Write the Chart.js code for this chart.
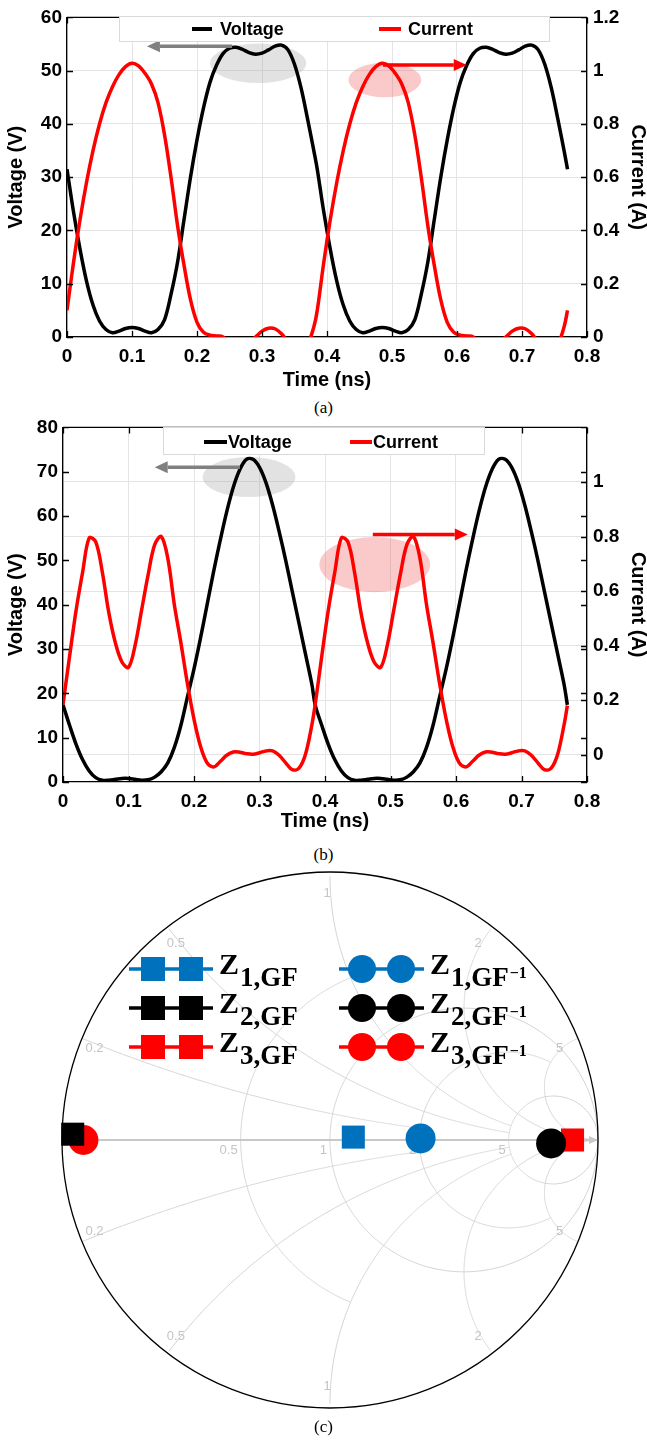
<!DOCTYPE html>
<html lang="en">
<head>
<meta charset="UTF-8">
<title>Voltage / current waveforms and impedance points</title>
<script src="https://cdn.jsdelivr.net/npm/chart.js"></script>
<style>
  body { margin: 0; background: #fff; }
  #page { position: relative; width: 647px; height: 1440px; }
  canvas { position: absolute; left: 0; }
  .cap { position: absolute; left: 0; width: 647px; text-align: center;
         font: 17px "Liberation Serif", "Times New Roman", serif; line-height: 20px; color: #000; }
</style>
</head>
<body>
<div id="page">
  <canvas id="chartA" width="647" height="392" style="top:0"></canvas>
  <div class="cap" style="top:398px">(a)</div>
  <canvas id="chartB" width="647" height="423" style="top:410px"></canvas>
  <div class="cap" style="top:845px">(b)</div>
  <canvas id="chartC" width="647" height="560" style="top:860px"></canvas>
  <div class="cap" style="top:1417px">(c)</div>
</div>
<script>
// time base shared by both waveform plots (two RF periods)
const timeNs = [
  0, 0.01, 0.02, 0.03, 0.04, 0.05, 0.06, 0.07, 0.08, 0.09, 0.10, 0.11, 0.12, 0.13,
  0.14, 0.15, 0.16, 0.17, 0.18, 0.19, 0.20, 0.21, 0.22, 0.23, 0.24, 0.25, 0.26, 0.27,
  0.28, 0.29, 0.30, 0.31, 0.32, 0.33, 0.34, 0.35, 0.36, 0.37, 0.38,
  0.385, 0.395, 0.405, 0.415, 0.425, 0.435, 0.445, 0.455, 0.465, 0.475, 0.485, 0.495,
  0.505, 0.515, 0.525, 0.535, 0.545, 0.555, 0.565, 0.575, 0.585, 0.595, 0.605, 0.615,
  0.625, 0.635, 0.645, 0.655, 0.665, 0.675, 0.685, 0.695, 0.705, 0.715, 0.725, 0.735,
  0.745, 0.755, 0.765, 0.77
];

// (a) drain voltage (V) and current (A)
const voltageA = [
  31.5, 23.5, 16.5, 10.5, 6.0, 3.0, 1.4, 0.8, 1.1, 1.6, 1.8, 1.6, 1.1, 0.8,
  1.4, 3.2, 8.0, 14.0, 22.0, 30.0, 37.0, 43.0, 47.8, 51.0, 53.2, 54.2, 54.4, 54.0,
  53.4, 53.1, 53.3, 53.9, 54.6, 54.8, 53.9, 51.2, 46.8, 41.0, 34.8,
  31.5, 23.5, 16.5, 10.5, 6.0, 3.0, 1.4, 0.8, 1.1, 1.6, 1.8, 1.6, 1.1, 0.8,
  1.4, 3.2, 8.0, 14.0, 22.0, 30.0, 37.0, 43.0, 47.8, 51.0, 53.2, 54.2, 54.4, 54.0,
  53.4, 53.1, 53.3, 53.9, 54.6, 54.8, 53.9, 51.2, 46.8, 41.0, 34.8,
  31.5
];
const currentA = [
  0.10, 0.28, 0.44, 0.58, 0.70, 0.80, 0.88, 0.94, 0.985, 1.015, 1.028, 1.018, 0.99, 0.95,
  0.88, 0.76, 0.60, 0.42, 0.27, 0.14, 0.055, 0.018, 0.007, 0.004, 0.0, -0.03, -0.05, -0.045,
  -0.02, 0.0, 0.022, 0.033, 0.031, 0.012, -0.02, -0.05, -0.055, -0.03, 0.04,
  0.10, 0.28, 0.44, 0.58, 0.70, 0.80, 0.88, 0.94, 0.985, 1.015, 1.028, 1.018, 0.99, 0.95,
  0.88, 0.76, 0.60, 0.42, 0.27, 0.14, 0.055, 0.018, 0.007, 0.004, 0.0, -0.03, -0.05, -0.045,
  -0.02, 0.0, 0.022, 0.033, 0.031, 0.012, -0.02, -0.05, -0.055, -0.03, 0.04,
  0.10
];

// (b) drain voltage (V) and current (A)
const voltageB = [
  17.4, 12.8, 8.5, 5.0, 2.5, 1.0, 0.4, 0.4, 0.6, 0.8, 0.8, 0.6, 0.4, 0.5,
  1.1, 2.3, 4.3, 7.8, 12.8, 19.2, 25.5, 32.5, 40.0, 47.5, 54.5, 61.0, 66.5, 70.5,
  72.8, 72.8, 71.0, 67.5, 62.5, 56.5, 50.0, 43.0, 36.0, 29.0, 22.0,
  17.4, 12.8, 8.5, 5.0, 2.5, 1.0, 0.4, 0.4, 0.6, 0.8, 0.8, 0.6, 0.4, 0.5,
  1.1, 2.3, 4.3, 7.8, 12.8, 19.2, 25.5, 32.5, 40.0, 47.5, 54.5, 61.0, 66.5, 70.5,
  72.8, 72.8, 71.0, 67.5, 62.5, 56.5, 50.0, 43.0, 36.0, 29.0, 22.0,
  17.4
];
const currentB = [
  0.184, 0.36, 0.53, 0.67, 0.795, 0.78, 0.67, 0.52, 0.41, 0.34, 0.32, 0.40, 0.53, 0.66,
  0.77, 0.80, 0.72, 0.55, 0.41, 0.26, 0.13, 0.03, -0.03, -0.045, -0.025, -0.002, 0.01, 0.009,
  0.004, 0.002, 0.007, 0.014, 0.014, -0.002, -0.03, -0.055, -0.05, 0.0, 0.11,
  0.184, 0.36, 0.53, 0.67, 0.795, 0.78, 0.67, 0.52, 0.41, 0.34, 0.32, 0.40, 0.53, 0.66,
  0.77, 0.80, 0.72, 0.55, 0.41, 0.26, 0.13, 0.03, -0.03, -0.045, -0.025, -0.002, 0.01, 0.009,
  0.004, 0.002, 0.007, 0.014, 0.014, -0.002, -0.03, -0.055, -0.05, 0.0, 0.11,
  0.18
];

// tick values
const timeTicks = [0, 0.1, 0.2, 0.3, 0.4, 0.5, 0.6, 0.7, 0.8];
const voltTicksA = [0, 10, 20, 30, 40, 50, 60];
const currTicksA = [0, 0.2, 0.4, 0.6, 0.8, 1.0, 1.2];
const voltTicksB = [0, 10, 20, 30, 40, 50, 60, 70, 80];
const currTicksB = [0, 0.2, 0.4, 0.6, 0.8, 1.0];

// (c) reflection coefficients of the six impedances
const impedanceNames = ['Z1,GF', 'Z2,GF', 'Z3,GF', 'Z1,GF-1', 'Z2,GF-1', 'Z3,GF-1'];
const gammaRe = [0.087, -0.96, 0.905, 0.338, 0.825, -0.92];
const gammaIm = [0.011, 0.022, 0.0, 0.006, -0.013, 0.0];

const SANS = '"Liberation Sans", Arial, Helvetica, sans-serif';
const SERIF = '"Liberation Serif", "Times New Roman", serif';
const tickFont = { family: SANS, size: 19, weight: 'bold' };
const titleFont = { family: SANS, size: 20, weight: 'bold' };
const GRID = '#e4e4e4';

function toXY(ys) { return timeNs.map((t, i) => ({ x: t, y: ys[i] })); }
function fixedTicks(values) { return s => { s.ticks = values.map(v => ({ value: v })); }; }
const fmt = v => String(Number(v.toFixed(2)));

// frame on top edge plus inward tick marks on all four sides
const frameTicks = {
  id: 'frameTicks',
  afterDatasetsDraw(chart) {
    const { ctx, chartArea: a, scales } = chart;
    const L = 6;
    ctx.save();
    ctx.strokeStyle = '#000';
    ctx.lineWidth = 1.3;
    ctx.beginPath();
    ctx.moveTo(a.left, a.top); ctx.lineTo(a.right, a.top);
    scales.x.ticks.forEach(t => {
      const px = Math.round(scales.x.getPixelForValue(t.value)) + 0.5;
      ctx.moveTo(px, a.bottom); ctx.lineTo(px, a.bottom - L);
      ctx.moveTo(px, a.top); ctx.lineTo(px, a.top + L);
    });
    scales.y.ticks.forEach(t => {
      const py = Math.round(scales.y.getPixelForValue(t.value)) + 0.5;
      ctx.moveTo(a.left, py); ctx.lineTo(a.left + L, py);
      ctx.moveTo(a.right, py); ctx.lineTo(a.right - L, py);
    });
    scales.y1.ticks.forEach(t => {
      const py = Math.round(scales.y1.getPixelForValue(t.value)) + 0.5;
      ctx.moveTo(a.right, py); ctx.lineTo(a.right - L, py);
    });
    ctx.stroke();
    ctx.restore();
  }
};

// highlight ellipses (under the traces) and arrows pointing to the matching axis
const marks = {
  id: 'marks',
  beforeDatasetsDraw(chart, args, o) {
    const { ctx, scales } = chart;
    (o.ellipses || []).forEach(e => {
      const ys = scales[e.axis];
      const cx = scales.x.getPixelForValue(e.t), cy = ys.getPixelForValue(e.v);
      const rx = Math.abs(scales.x.getPixelForValue(e.t + e.w / 2) - cx);
      const ry = Math.abs(ys.getPixelForValue(e.v + e.h / 2) - cy);
      ctx.save();
      ctx.fillStyle = e.color;
      ctx.beginPath();
      ctx.ellipse(cx, cy, rx, ry, 0, 0, Math.PI * 2);
      ctx.fill();
      ctx.restore();
    });
  },
  afterDatasetsDraw(chart, args, o) {
    const { ctx, scales } = chart;
    (o.arrows || []).forEach(r => {
      const ys = scales[r.axis];
      const x0 = scales.x.getPixelForValue(r.t0), x1 = scales.x.getPixelForValue(r.t1);
      const y = ys.getPixelForValue(r.v);
      const dir = Math.sign(x1 - x0), head = 13;
      ctx.save();
      ctx.strokeStyle = r.color; ctx.fillStyle = r.color; ctx.lineWidth = 3.5;
      ctx.beginPath(); ctx.moveTo(x0, y); ctx.lineTo(x1 - dir * head, y); ctx.stroke();
      ctx.beginPath();
      ctx.moveTo(x1, y);
      ctx.lineTo(x1 - dir * head, y - 6);
      ctx.lineTo(x1 - dir * head, y + 6);
      ctx.closePath(); ctx.fill();
      ctx.restore();
    });
  }
};

// boxed legend laid over the top of the plot area
const boxLegend = {
  id: 'boxLegend',
  afterDraw(chart, args, o) {
    if (!o.box) return;
    const ctx = chart.ctx;
    const [x0, y0, x1, y1] = o.box;
    ctx.save();
    ctx.fillStyle = '#fff';
    ctx.fillRect(x0, y0, x1 - x0, y1 - y0);
    ctx.strokeStyle = '#d9d9d9'; ctx.lineWidth = 1;
    ctx.strokeRect(x0 + 0.5, y0 + 0.5, x1 - x0 - 1, y1 - y0 - 1);
    ctx.font = 'bold 18px ' + SANS;
    ctx.textBaseline = 'middle';
    chart.data.datasets.forEach((ds, i) => {
      const it = o.items[i];
      ctx.strokeStyle = ds.borderColor; ctx.lineWidth = 4;
      ctx.beginPath(); ctx.moveTo(it.line[0], o.y); ctx.lineTo(it.line[1], o.y); ctx.stroke();
      ctx.fillStyle = '#000';
      ctx.fillText(ds.label, it.text, o.y + 1);
    });
    ctx.restore();
  }
};

function waveChart(id, volt, curr, cfg) {
  return new Chart(document.getElementById(id), {
    type: 'line',
    data: {
      datasets: [
        { label: 'Voltage', data: toXY(volt), yAxisID: 'y', borderColor: '#000', order: 1 },
        { label: 'Current', data: toXY(curr), yAxisID: 'y1', borderColor: '#ff0000', order: 0 }
      ]
    },
    options: {
      responsive: false,
      animation: false,
      events: [],
      parsing: false,
      layout: { padding: { top: cfg.top, left: 0, right: 0, bottom: 0 } },
      elements: {
        line: { borderWidth: 3.5, tension: 0.35, fill: false, borderJoinStyle: 'round' },
        point: { radius: 0 }
      },
      plugins: {
        legend: { display: false },
        tooltip: { enabled: false },
        marks: cfg.marks,
        boxLegend: cfg.legend
      },
      scales: {
        x: {
          type: 'linear', min: 0, max: 0.8,
          afterBuildTicks: fixedTicks(timeTicks),
          ticks: { font: tickFont, color: '#000', padding: 8, maxRotation: 0, callback: fmt },
          grid: { color: GRID, drawTicks: false },
          border: { color: '#000', width: 1.3 },
          title: { display: true, text: 'Time (ns)', font: titleFont, color: '#000', padding: { top: 0, bottom: 0 } },
          afterFit: s => { s.height = cfg.xHeight; }
        },
        y: {
          position: 'left', min: 0, max: cfg.vMax,
          afterBuildTicks: fixedTicks(cfg.vTicks),
          ticks: { font: tickFont, color: '#000', padding: 5, callback: fmt },
          grid: { display: cfg.gridLeft, color: GRID, drawTicks: false },
          border: { color: '#000', width: 1.3 },
          title: { display: true, text: 'Voltage (V)', font: titleFont, color: '#000', padding: { top: 4, bottom: 0 } },
          afterFit: s => { s.width = cfg.left; }
        },
        y1: {
          position: 'right', min: cfg.iMin, max: cfg.iMax,
          afterBuildTicks: fixedTicks(cfg.iTicks),
          ticks: { font: tickFont, color: '#000', padding: 6, callback: fmt },
          grid: { drawOnChartArea: !cfg.gridLeft, color: GRID, drawTicks: false },
          border: { color: '#000', width: 1.3 },
          title: { display: true, text: 'Current (A)', font: titleFont, color: '#000', padding: { top: -3, bottom: 0 } },
          afterFit: s => { s.width = 60; }
        }
      }
    },
    plugins: [marks, frameTicks, boxLegend]
  });
}

waveChart('chartA', voltageA, currentA, {
  top: 15, left: 67, xHeight: 55,
  vMax: 60, vTicks: voltTicksA, iMin: 0, iMax: 1.2, iTicks: currTicksA, gridLeft: true,
  legend: { box: [119, 16, 550, 42], y: 29, items: [{ line: [192, 212], text: 220 }, { line: [379, 401], text: 408 }] },
  marks: {
    ellipses: [
      { t: 0.294, v: 51.4, w: 0.148, h: 7.4, axis: 'y', color: 'rgba(160,160,160,0.3)' },
      { t: 0.489, v: 0.965, w: 0.112, h: 0.13, axis: 'y1', color: 'rgba(240,100,100,0.35)' }
    ],
    arrows: [
      { t0: 0.254, t1: 0.123, v: 54.6, axis: 'y', color: '#808080' },
      { t0: 0.486, t1: 0.615, v: 1.021, axis: 'y1', color: '#ff0000' }
    ]
  }
});

waveChart('chartB', voltageB, currentB, {
  top: 17, left: 63, xHeight: 51,
  vMax: 80, vTicks: voltTicksB, iMin: -0.1, iMax: 1.2, iTicks: currTicksB, gridLeft: false,
  legend: { box: [163, 17, 485, 45], y: 32, items: [{ line: [204, 227], text: 228 }, { line: [350, 372], text: 373 }] },
  marks: {
    ellipses: [
      { t: 0.284, v: 68.8, w: 0.142, h: 9.0, axis: 'y', color: 'rgba(160,160,160,0.3)' },
      { t: 0.476, v: 0.697, w: 0.169, h: 0.202, axis: 'y1', color: 'rgba(240,100,100,0.35)' }
    ],
    arrows: [
      { t0: 0.270, t1: 0.140, v: 71.0, axis: 'y', color: '#808080' },
      { t0: 0.473, t1: 0.618, v: 0.807, axis: 'y1', color: '#ff0000' }
    ]
  }
});

// ---- (c) Smith chart ----
const gammaOf = (r, x) => {
  const d = (r + 1) * (r + 1) + x * x;
  return [(r * r - 1 + x * x) / d, 2 * x / d];
};

const smithGrid = {
  id: 'smithGrid',
  beforeDatasetsDraw(chart, args, o) {
    const { ctx, scales: { x: sx, y: sy } } = chart;
    const px = g => [sx.getPixelForValue(g[0]), sy.getPixelForValue(g[1])];
    const poly = pts => {
      ctx.beginPath();
      pts.forEach((p, i) => { const q = px(p); i ? ctx.lineTo(q[0], q[1]) : ctx.moveTo(q[0], q[1]); });
      ctx.stroke();
    };
    const N = 600;
    ctx.save();
    ctx.strokeStyle = '#d2d2d2';
    ctx.lineWidth = 1;
    o.rCircles.forEach(c => {
      const pts = [];
      for (let i = 0; i <= N; i++) {
        const s = -1 + 2 * i / N;
        const xv = isFinite(c.lim) ? c.lim * s : Math.tan(s * Math.PI / 2 * 0.9995);
        pts.push(gammaOf(c.r, xv));
      }
      poly(pts);
    });
    o.xArcs.forEach(c => {
      [1, -1].forEach(sg => {
        const pts = [];
        for (let i = 0; i <= N; i++) {
          const s = i / N;
          const rv = isFinite(c.lim) ? c.lim * s : Math.tan(s * Math.PI / 2 * 0.9995);
          pts.push(gammaOf(rv, sg * c.x));
        }
        poly(pts);
      });
    });
    // real axis
    const l = px([-1, 0]), r = px([1, 0]);
    ctx.strokeStyle = '#c8c8c8';
    ctx.lineWidth = 2;
    ctx.beginPath(); ctx.moveTo(l[0], l[1]); ctx.lineTo(r[0] - 6, r[1]); ctx.stroke();
    ctx.fillStyle = '#c8c8c8';
    ctx.beginPath(); ctx.moveTo(r[0], r[1]); ctx.lineTo(r[0] - 9, r[1] - 4); ctx.lineTo(r[0] - 9, r[1] + 4); ctx.fill();
    // labels
    ctx.fillStyle = '#c4c4c4';
    ctx.font = '13px ' + SANS;
    ctx.textBaseline = 'middle';
    ctx.textAlign = 'right';
    o.rCircles.forEach(c => {
      const p = px(gammaOf(c.r, 0));
      ctx.fillText(String(c.r), p[0] - 3, p[1] + 10);
    });
    ctx.textAlign = 'center';
    const c0 = px([0, 0]);
    const R = sx.getPixelForValue(1) - c0[0];
    o.xArcs.forEach(c => {
      [1, -1].forEach(sg => {
        const g = gammaOf(0, sg * c.x);
        const ang = Math.atan2(g[1], g[0]);
        ctx.fillText(String(c.x), c0[0] + Math.cos(ang) * R * 0.94 - 3, c0[1] - Math.sin(ang) * R * 0.94 + sg * 5);
      });
    });
    // outer |gamma| = 1 circle
    ctx.strokeStyle = '#000';
    ctx.lineWidth = 1.3;
    ctx.beginPath(); ctx.arc(c0[0], c0[1], R, 0, Math.PI * 2); ctx.stroke();
    ctx.restore();
  }
};

const smithLegend = {
  id: 'smithLegend',
  afterDraw(chart, args, o) {
    const ctx = chart.ctx;
    chart.data.datasets.forEach((ds, i) => {
      const it = o.items[i];
      ctx.save();
      ctx.strokeStyle = ds.backgroundColor; ctx.lineWidth = 3.5;
      ctx.beginPath(); ctx.moveTo(it.line[0], it.y); ctx.lineTo(it.line[1], it.y); ctx.stroke();
      const style = { pointStyle: ds.pointStyle, radius: ds.pointStyle === 'rect' ? 17 : 14, rotation: 0, borderWidth: 0 };
      ctx.fillStyle = ds.backgroundColor;
      ctx.strokeStyle = ds.backgroundColor;
      ctx.lineWidth = 0.01;
      it.marks.forEach(mx => Chart.helpers.drawPoint(ctx, style, mx, it.y));
      // Z with subscript / superscript
      ctx.fillStyle = '#000';
      ctx.textBaseline = 'alphabetic';
      let x = it.text;
      ctx.font = 'bold 30px ' + SERIF;
      ctx.fillText('Z', x, it.y + 5);
      x += ctx.measureText('Z').width + 1;
      ctx.font = 'bold 27px ' + SERIF;
      ctx.fillText(o.sub[i], x, it.y + 17);
      x += ctx.measureText(o.sub[i]).width + 1;
      if (o.sup[i]) {
        ctx.font = 'bold 16px ' + SERIF;
        ctx.fillText(o.sup[i], x, it.y + 9);
      }
      ctx.restore();
    });
  }
};

const smithColors = ['#0072BD', '#000000', '#ff0000', '#0072BD', '#000000', '#ff0000'];
const smithOrder = [2, 1, 3, 2, 1, 3];
const colL = { line: [129, 213], marks: [153, 191], text: 219 };
const colR = { line: [339, 424], marks: [362, 401], text: 430 };
const rowY = [109, 148, 187];

new Chart(document.getElementById('chartC'), {
  type: 'scatter',
  data: {
    datasets: impedanceNames.map((name, i) => ({
      label: name,
      data: [{ x: gammaRe[i], y: gammaIm[i] }],
      pointStyle: i < 3 ? 'rect' : 'circle',
      pointRadius: i < 3 ? 16.3 : 15,
      backgroundColor: smithColors[i],
      borderColor: smithColors[i],
      borderWidth: 0,
      order: smithOrder[i],
      clip: false
    }))
  },
  options: {
    responsive: false,
    animation: false,
    events: [],
    layout: { padding: { left: 62, right: 49, top: 12, bottom: 12 } },
    scales: {
      x: { type: 'linear', min: -1, max: 1, display: false },
      y: { type: 'linear', min: -1, max: 1, display: false }
    },
    plugins: {
      legend: { display: false },
      tooltip: { enabled: false },
      smithGrid: {
        rCircles: [{ r: 0.5, lim: 1 }, { r: 1, lim: Infinity }, { r: 2, lim: 5 }, { r: 5, lim: Infinity }],
        xArcs: [{ x: 0.2, lim: 2 }, { x: 0.5, lim: 5 }, { x: 1, lim: 5 }, { x: 2, lim: Infinity }, { x: 5, lim: Infinity }]
      },
      smithLegend: {
        items: [0, 1, 2, 3, 4, 5].map(i => {
          const col = i < 3 ? colL : colR;
          return { line: col.line, marks: col.marks, text: col.text, y: rowY[i % 3] };
        }),
        sub: ['1,GF', '2,GF', '3,GF', '1,GF', '2,GF', '3,GF'],
        sup: ['', '', '', '\u22121', '\u22121', '\u22121']
      }
    }
  },
  plugins: [smithGrid, smithLegend]
});
</script>
</body>
</html>
